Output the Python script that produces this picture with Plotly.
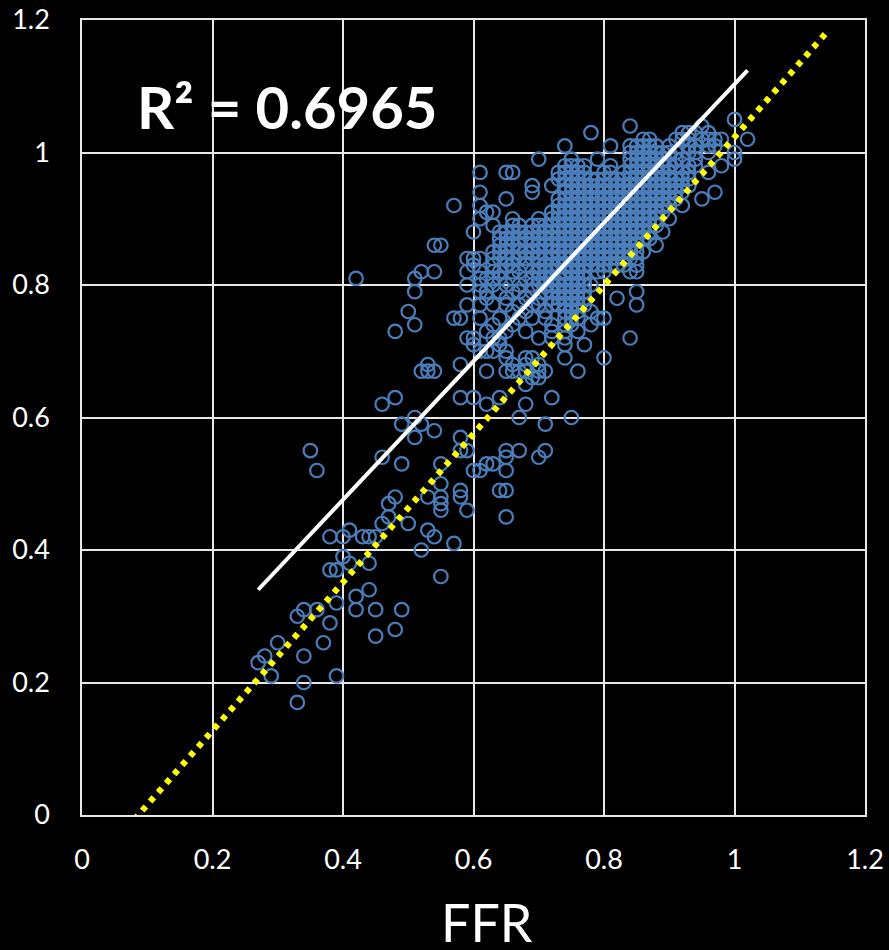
import plotly.graph_objects as go

levels = [1.05, 1.04, 1.03, 1.02, 1.01, 1.00, 0.99, 0.98, 0.97, 0.96, 0.95, 0.94, 0.93, 0.92, 0.91,
          0.90, 0.89, 0.88, 0.87, 0.86, 0.85, 0.84, 0.83, 0.82, 0.81, 0.80, 0.79, 0.78, 0.77, 0.76,
          0.75, 0.74, 0.73, 0.72, 0.71, 0.70, 0.69, 0.68, 0.67, 0.66, 0.65, 0.63, 0.62, 0.60, 0.59,
          0.58, 0.57, 0.55, 0.54, 0.53, 0.52, 0.50, 0.49, 0.48, 0.47, 0.46, 0.45, 0.44, 0.43, 0.42,
          0.41, 0.40, 0.39, 0.38, 0.37, 0.36, 0.34, 0.33, 0.32, 0.31, 0.30, 0.29, 0.28, 0.27, 0.26,
          0.24, 0.23, 0.21, 0.20, 0.17]

ffr_by_level = [
    [1.00],
    [.84, .95],
    [.78, .92, .93, .94, .96],
    [.86, .87, .91, .92, .93, .95, .96, .97, .98, 1.02],
    [.74, .81, .84, .85, .86, .87, .88, .90, .93, .94, .96, .97],
    [.84, .85, .86, .87, .88, .89, .90, .91, .93, .94, .96, 1.00],
    [.70, .75, .79, .84, .85, .86, .87, .88, .89, .91, .92, .94, 1.00],
    [.74, .75, .76, .77, .81, .84, .85, .86, .87, .88, .89, .90, .91, .93, .94, .98],
    [.61, .65, .66, .73, .74, .75, .76, .77, .80, .81, .83, .84, .85, .86, .87, .88, .89, .90, .92, .93, .96],
    [.73, .74, .75, .76, .77, .78, .79, .80, .81, .82, .83, .84, .85, .86, .87, .88, .89, .90, .91, .92, .93],
    [.69, .72, .74, .75, .76, .77, .78, .79, .80, .81, .82, .83, .84, .85, .86, .87, .88, .89, .90, .91, .92, .93],
    [.61, .69, .74, .75, .76, .77, .78, .79, .80, .81, .82, .83, .84, .85, .86, .87, .88, .89, .90, .91, .92, .97],
    [.65, .73, .74, .75, .76, .77, .78, .79, .80, .81, .82, .83, .84, .85, .86, .87, .88, .89, .90, .91, .95],
    [.57, .61, .73, .74, .75, .76, .77, .78, .79, .80, .81, .82, .83, .84, .85, .86, .87, .88, .89, .90, .92],
    [.62, .63, .72, .73, .74, .75, .76, .77, .78, .79, .80, .81, .82, .83, .84, .85, .86, .87, .88, .89],
    [.61, .66, .70, .72, .73, .74, .75, .76, .77, .78, .79, .80, .81, .82, .83, .84, .85, .86, .87, .88, .90],
    [.63, .66, .67, .69, .70, .71, .72, .73, .74, .75, .76, .77, .78, .79, .80, .81, .82, .83, .84, .85, .86, .87, .88],
    [.60, .64, .65, .66, .67, .68, .69, .70, .71, .72, .73, .74, .75, .76, .77, .78, .79, .80, .81, .82, .83, .84, .85, .86, .87, .89],
    [.64, .65, .66, .67, .68, .69, .70, .71, .72, .73, .74, .75, .76, .77, .78, .79, .80, .81, .82, .83, .84, .85, .86, .87],
    [.54, .55, .64, .65, .66, .67, .69, .70, .71, .72, .73, .74, .75, .76, .77, .78, .79, .80, .81, .82, .83, .84, .85, .88],
    [.63, .64, .65, .67, .68, .69, .70, .72, .73, .74, .75, .76, .77, .78, .79, .80, .81, .82, .83, .84, .85, .86],
    [.59, .60, .61, .63, .64, .65, .66, .67, .68, .69, .70, .71, .72, .73, .74, .75, .76, .77, .78, .79, .80, .81, .82, .83, .84, .85],
    [.60, .63, .65, .66, .68, .70, .71, .72, .73, .74, .75, .76, .77, .78, .79, .80, .81, .82, .83, .85],
    [.52, .54, .59, .61, .63, .64, .66, .67, .69, .70, .71, .72, .74, .75, .76, .77, .79, .80, .84, .85],
    [.42, .51, .61, .62, .63, .64, .66, .68, .69, .70, .71, .72, .73, .74, .75, .76, .77],
    [.59, .61, .63, .65, .67, .69, .70, .71, .72, .73, .74, .75, .76, .77, .78],
    [.51, .61, .62, .64, .66, .67, .69, .71, .72, .73, .74, .75, .76, .77, .85],
    [.62, .65, .68, .70, .72, .73, .74, .75, .76, .77, .82],
    [.59, .61, .63, .65, .67, .69, .70, .72, .73, .74, .75, .76, .77, .85],
    [.50, .66, .68, .71, .74, .75, .76, .78],
    [.57, .58, .61, .64, .67, .69, .71, .74, .75, .76, .79, .80],
    [.51, .63, .66, .72, .74, .75, .78],
    [.48, .62, .65, .68, .72, .74, .76],
    [.59, .60, .63, .64, .70, .72, .74, .84],
    [.60, .64, .74, .77],
    [.61, .62, .63, .65],
    [.65, .68, .69, .74, .80],
    [.53, .58, .66, .68, .70],
    [.52, .53, .54, .62, .65, .66, .67, .68, .70, .71, .76],
    [.69, .70],
    [.68],
    [.48, .58, .60, .64, .72],
    [.46, .62, .68],
    [.51, .67, .75],
    [.49, .52, .71],
    [.54],
    [.51, .58],
    [.35, .58, .59, .65, .67, .71],
    [.46, .65, .70],
    [.49, .55, .62, .63],
    [.36, .60, .61, .65],
    [.55],
    [.58, .64, .65],
    [.48, .53, .55, .58],
    [.47, .55],
    [.55, .59],
    [.47, .65],
    [.46, .50],
    [.41, .53],
    [.38, .40, .43, .44, .45, .54],
    [.57],
    [.52],
    [.40],
    [.41, .44],
    [.38, .39],
    [.55],
    [.44],
    [.42],
    [.39],
    [.34, .36, .42, .45, .49],
    [.33],
    [.38],
    [.48],
    [.45],
    [.30, .37],
    [.28, .34],
    [.27],
    [.29, .39],
    [.34],
    [.33],
]

trend_ffr = [0.27, 1.02]
trend_ratio = [0.34, 1.124]
identity_ffr = [0.08, 1.14]
identity_ratio = [-0.007, 1.18]
tick_values = [0, 0.2, 0.4, 0.6, 0.8, 1, 1.2]
tick_labels = ["0", "0.2", "0.4", "0.6", "0.8", "1", "1.2"]

ffr_values = []
ratio_values = []
for level, row in zip(levels, ffr_by_level):
    for value in row:
        ffr_values.append(value)
        ratio_values.append(level)

FONT = "Lato, Carlito, sans-serif"

fig = go.Figure()
fig.add_trace(go.Scatter(
    x=ffr_values, y=ratio_values, mode="markers", cliponaxis=False,
    marker=dict(symbol="circle-open", size=13.5, color="#4A7EBB", line=dict(width=2.2, color="#4A7EBB")),
))
fig.add_trace(go.Scatter(
    x=trend_ffr, y=trend_ratio, mode="lines", cliponaxis=False,
    line=dict(color="#FFFFFF", width=4),
))
fig.add_trace(go.Scatter(
    x=identity_ffr, y=identity_ratio, mode="lines", cliponaxis=False,
    line=dict(color="#FFFF00", width=6.2, dash="5.5px,6.6px"),
))

axis_style = dict(
    range=[0, 1.2], tickmode="array", tickvals=tick_values, ticktext=tick_labels,
    showgrid=True, gridcolor="#E8E8E8", gridwidth=1.5, zeroline=False, automargin=False,
    showline=True, linecolor="#E8E8E8", linewidth=1.5, mirror=True, ticks="",
    tickfont=dict(family=FONT, size=27, color="#FFFFFF"),
)

fig.update_layout(
    width=889, height=950, autosize=False, showlegend=False,
    paper_bgcolor="#000000", plot_bgcolor="#000000",
    margin=dict(l=82, r=23.5, t=19.7, b=134.7),
    xaxis=dict(axis_style, ticklabelstandoff=20),
    yaxis=dict(axis_style, ticklabelstandoff=25),
    annotations=[
        dict(text="R² = 0.6965", xref="paper", yref="paper", x=(287 - 82) / 783.5, y=1 - (106 - 19.7) / 795.6,
             xanchor="center", yanchor="middle", showarrow=False,
             font=dict(family=FONT, size=58, color="#FFFFFF", weight="bold")),
        dict(text="FFR", xref="paper", yref="paper", x=(487 - 82) / 783.5, y=1 - (922 - 19.7) / 795.6,
             xanchor="center", yanchor="middle", showarrow=False,
             font=dict(family=FONT, size=52, color="#FFFFFF")),
    ],
)

fig.write_html("out.html", config=dict(displayModeBar=False),
               post_script='document.body.style.margin="0";document.body.style.overflow="hidden";document.body.style.background="#000";')
